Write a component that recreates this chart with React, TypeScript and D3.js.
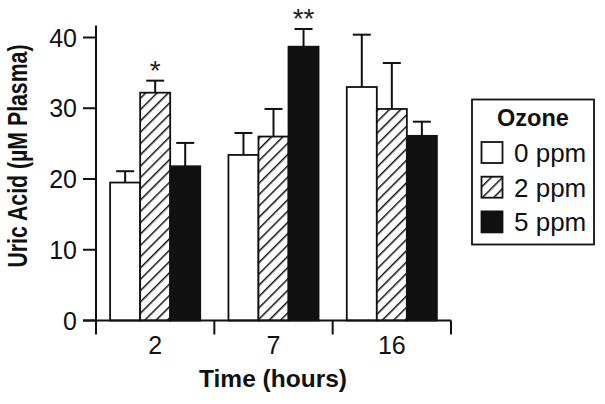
import React, { useEffect, useRef } from 'react';
import * as d3 from 'd3';

const timePoints = ['2', '7', '16'];
const doses = ['0 ppm', '2 ppm', '5 ppm'];
const meanValues = [
  [19.5, 23.4, 33.0],
  [32.2, 26.0, 29.9],
  [21.8, 38.7, 26.1],
];
const errorTops = [
  [21.1, 26.5, 40.4],
  [33.9, 29.9, 36.4],
  [25.1, 41.2, 28.1],
];
const marks = [
  { time: '2', dose: '2 ppm', text: '*' },
  { time: '7', dose: '5 ppm', text: '**' },
];
const yTicks = [0, 10, 20, 30, 40];

const App = () => {
  const ref = useRef<SVGSVGElement>(null);

  useEffect(() => {
    const svg = d3.select(ref.current);
    svg.selectAll('*').remove();
    const font = '"Liberation Sans", Arial, sans-serif';

    const defs = svg.append('defs');
    const pat = defs.append('pattern')
      .attr('id', 'hatch')
      .attr('patternUnits', 'userSpaceOnUse')
      .attr('width', 8)
      .attr('height', 8)
      .attr('patternTransform', 'rotate(45)');
    pat.append('rect').attr('width', 8).attr('height', 8).attr('fill', '#fff');
    pat.append('line')
      .attr('x1', 0).attr('y1', 0).attr('x2', 0).attr('y2', 8)
      .attr('stroke', '#111').attr('stroke-width', 3);

    const fills = ['#fff', 'url(#hatch)', '#111'];

    const y = d3.scaleLinear().domain([0, 40]).range([320.5, 37.5]);
    const x0 = d3.scaleBand().domain(timePoints).range([96, 451]).padding(0);
    const x1 = d3.scaleBand().domain(doses).range([0, x0.bandwidth()])
      .paddingInner(0).paddingOuter(0.47);

    // bars
    doses.forEach((dose, si) => {
      timePoints.forEach((t, gi) => {
        const v = meanValues[si][gi];
        const bx = x0(t)! + x1(dose)!;
        const cx = bx + x1.bandwidth() / 2;
        // error bar
        svg.append('line')
          .attr('x1', cx).attr('x2', cx)
          .attr('y1', y(v)).attr('y2', y(errorTops[si][gi]))
          .attr('stroke', '#111').attr('stroke-width', 2);
        svg.append('line')
          .attr('x1', cx - 9).attr('x2', cx + 9)
          .attr('y1', y(errorTops[si][gi])).attr('y2', y(errorTops[si][gi]))
          .attr('stroke', '#111').attr('stroke-width', 2);
        svg.append('rect')
          .attr('x', bx)
          .attr('y', y(v))
          .attr('width', x1.bandwidth())
          .attr('height', y(0) - y(v))
          .attr('fill', fills[si])
          .attr('stroke', '#111')
          .attr('stroke-width', 1.8);
      });
    });

    // significance marks
    marks.forEach(m => {
      const si = doses.indexOf(m.dose);
      const gi = timePoints.indexOf(m.time);
      svg.append('text')
        .attr('x', x0(m.time)! + x1(m.dose)! + x1.bandwidth() / 2)
        .attr('y', y(errorTops[si][gi]) - 1)
        .attr('text-anchor', 'middle')
        .attr('font-family', font)
        .attr('font-size', 28)
        .attr('fill', '#222')
        .text(m.text);
    });

    // y axis
    svg.append('line')
      .attr('x1', 96).attr('x2', 96)
      .attr('y1', y(41.7)).attr('y2', y(0))
      .attr('stroke', '#111').attr('stroke-width', 2);
    yTicks.forEach(t => {
      svg.append('line')
        .attr('x1', 83).attr('x2', 96)
        .attr('y1', y(t)).attr('y2', y(t))
        .attr('stroke', '#111').attr('stroke-width', 2);
      svg.append('text')
        .attr('x', 77).attr('y', y(t))
        .attr('dy', '0.36em')
        .attr('text-anchor', 'end')
        .attr('font-family', font)
        .attr('font-size', 25)
        .attr('fill', '#111')
        .text(t);
    });

    // x axis
    svg.append('line')
      .attr('x1', 83).attr('x2', x0.range()[1])
      .attr('y1', y(0)).attr('y2', y(0))
      .attr('stroke', '#111').attr('stroke-width', 2);
    const seps = timePoints.map(t => x0(t)!).concat([x0.range()[1]]);
    seps.forEach(sx => {
      svg.append('line')
        .attr('x1', sx).attr('x2', sx)
        .attr('y1', y(0)).attr('y2', y(0) + 14)
        .attr('stroke', '#111').attr('stroke-width', 2);
    });
    timePoints.forEach(t => {
      svg.append('text')
        .attr('x', x0(t)! + x0.bandwidth() / 2)
        .attr('y', 354)
        .attr('text-anchor', 'middle')
        .attr('font-family', font)
        .attr('font-size', 25)
        .attr('fill', '#111')
        .text(t);
    });

    // axis titles
    svg.append('text')
      .attr('x', 273).attr('y', 387)
      .attr('text-anchor', 'middle')
      .attr('font-family', font)
      .attr('font-weight', 'bold')
      .attr('font-size', 24.5)
      .attr('fill', '#111')
      .text('Time (hours)');
    // y title: glyphs are tall but narrow in the original
    svg.append('text')
      .attr('transform', 'translate(27, 156) rotate(-90) scale(0.76, 1)')
      .attr('text-anchor', 'middle')
      .attr('font-family', font)
      .attr('font-weight', 'bold')
      .attr('font-size', 28)
      .attr('fill', '#111')
      .text('Uric Acid (µM Plasma)');

    // legend
    const lg = svg.append('g');
    lg.append('rect')
      .attr('x', 472).attr('y', 99.5)
      .attr('width', 122).attr('height', 145)
      .attr('fill', '#fff').attr('stroke', '#111').attr('stroke-width', 1.8);
    lg.append('text')
      .attr('x', 533).attr('y', 126)
      .attr('text-anchor', 'middle')
      .attr('font-family', font)
      .attr('font-weight', 'bold')
      .attr('font-size', 23.5)
      .attr('fill', '#111')
      .text('Ozone');
    doses.forEach((d, i) => {
      const ry = 142 + i * 34.7;
      lg.append('rect')
        .attr('x', 481.5).attr('y', ry)
        .attr('width', 21).attr('height', 21)
        .attr('fill', fills[i]).attr('stroke', '#111').attr('stroke-width', 1.8);
      lg.append('text')
        .attr('x', 514).attr('y', ry + 20)
        .attr('font-family', font)
        .attr('font-size', 26)
        .attr('fill', '#111')
        .text(d);
    });
  }, []);

  return (
    <svg ref={ref} width={605} height={404}
      style={{ position: 'absolute', left: 0, top: 0, background: '#fff' }} />
  );
};

export default App;
